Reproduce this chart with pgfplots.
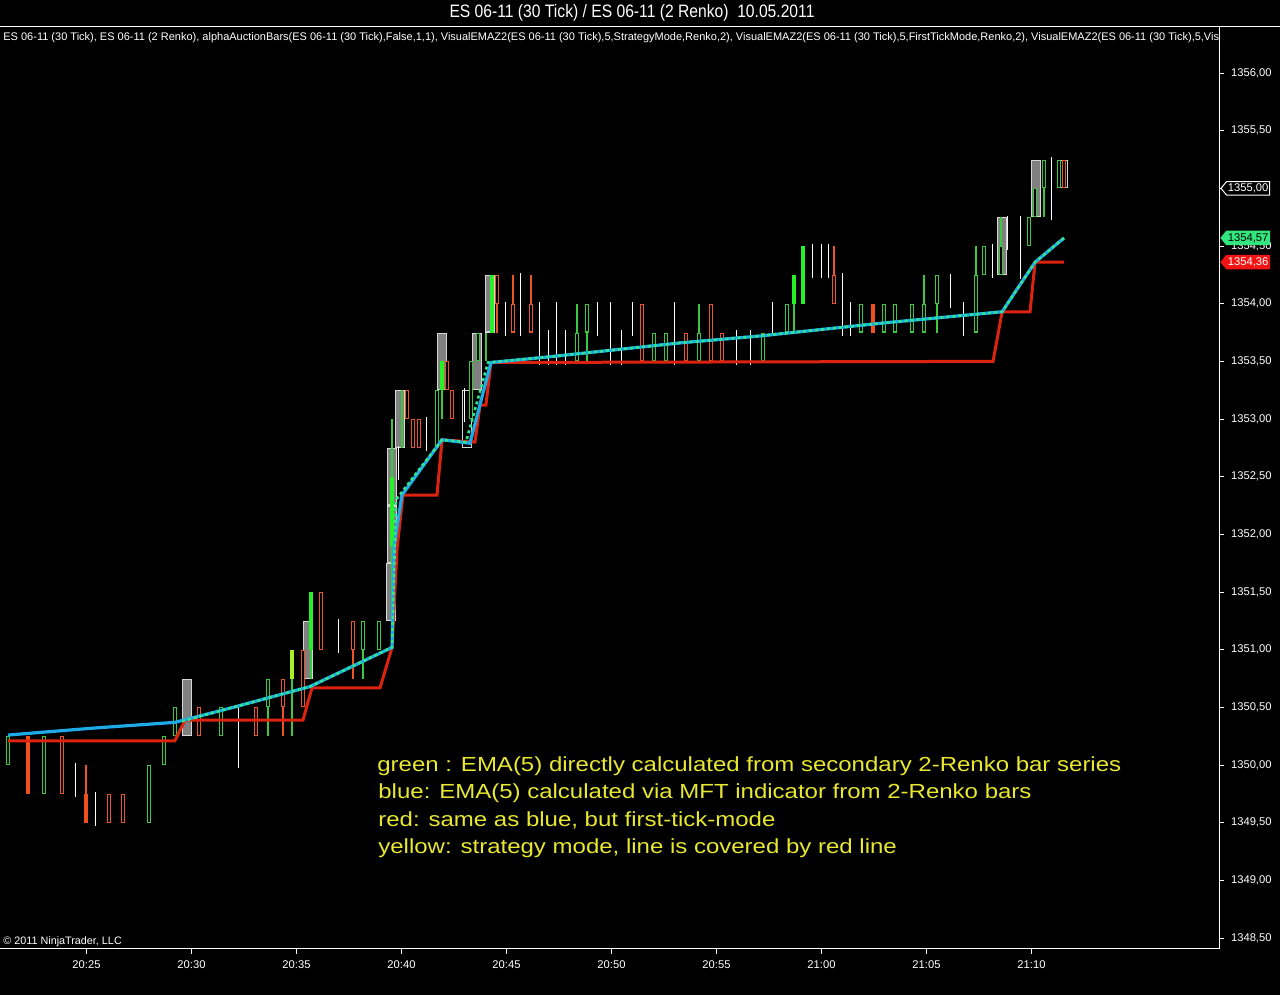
\documentclass[border=0pt]{standalone}
\usepackage{graphicx}
\usepackage{pgfplots}
\usepackage{pgfplotstable}
\pgfplotsset{compat=1.18}
\usepackage{fontspec}
\setmainfont{Liberation Sans}

\definecolor{grnH}{RGB}{60,200,60}
\definecolor{grnS}{RGB}{40,240,40}
\definecolor{grnY}{RGB}{170,240,40}
\definecolor{redH}{RGB}{235,85,35}
\definecolor{redS}{RGB}{240,80,30}
\definecolor{redL}{RGB}{220,35,15}
\definecolor{bluL}{RGB}{30,170,230}
\definecolor{grnL}{RGB}{50,230,140}
\definecolor{rkF}{RGB}{128,128,128}
\definecolor{rkO}{RGB}{215,215,215}
\definecolor{ylw}{RGB}{232,232,48}
\definecolor{mkG}{RGB}{50,230,125}
\definecolor{mkR}{RGB}{240,20,20}

\newcommand{\tk}{\fontsize{5.6}{6.5}\selectfont}

% hollow green candle bodies: time (min after 20:00), low, high
\pgfplotstableread{
x lo hi
21.26 1350.00 1350.25
22.98 1349.75 1350.25
27.98 1349.50 1350.00
28.69 1350.00 1350.25
29.21 1350.25 1350.50
31.40 1350.25 1350.50
33.64 1350.50 1350.75
38.17 1351.00 1351.25
38.93 1351.00 1351.25
41.69 1352.75 1353.25
43.31 1353.00 1353.50
43.64 1353.50 1353.75
48.36 1353.50 1353.75
48.83 1353.75 1354.00
52.02 1353.50 1353.75
52.60 1353.50 1353.75
54.17 1353.50 1353.75
57.21 1353.50 1353.75
58.36 1353.75 1354.00
61.88 1353.75 1354.00
62.98 1353.75 1354.00
63.50 1353.75 1354.00
64.31 1353.75 1354.00
64.88 1353.75 1354.00
65.50 1354.00 1354.25
67.36 1353.75 1354.25
67.74 1354.25 1354.50
68.55 1354.25 1354.50
69.88 1354.50 1354.75
70.17 1354.75 1355.00
70.60 1355.00 1355.25
71.31 1355.00 1355.25
}\hollowG

\pgfplotstableread{
x lo hi
23.83 1349.75 1350.25
26.07 1349.50 1349.75
26.74 1349.50 1349.75
30.36 1350.25 1350.50
33.07 1350.25 1350.50
34.36 1350.50 1350.75
35.31 1350.50 1351.00
36.17 1351.00 1351.50
37.69 1351.00 1351.25
40.26 1353.00 1353.25
40.55 1352.75 1353.00
40.83 1352.75 1353.00
42.17 1353.25 1353.50
42.40 1353.00 1353.25
44.55 1354.00 1354.25
45.31 1353.75 1354.00
46.17 1353.75 1354.00
51.45 1353.50 1354.00
53.55 1353.50 1353.75
54.74 1353.50 1354.00
55.26 1353.50 1353.75
60.60 1354.00 1354.25
71.55 1355.00 1355.25
}\hollowR

\pgfplotstableread{
x lo hi
35.69 1351.00 1351.50
39.55 1351.90 1352.50
41.93 1353.25 1353.50
44.31 1353.75 1354.25
58.69 1354.00 1354.25
59.12 1354.00 1354.50
}\solidG

\pgfplotstableread{
x lo hi
34.79 1350.75 1351.00
}\solidY

\pgfplotstableread{
x lo hi
22.21 1349.75 1350.25
24.98 1349.50 1349.75
62.45 1353.75 1354.00
}\solidR

\pgfplotstableread{
x lo hi
33.64 1350.25 1350.50
34.79 1350.25 1350.75
35.69 1350.75 1351.00
38.17 1350.75 1351.00
39.55 1351.25 1353.00
40.02 1352.75 1353.25
41.93 1353.00 1353.25
44.02 1353.50 1353.75
48.36 1353.75 1354.00
48.83 1353.50 1353.75
54.17 1353.75 1354.00
58.69 1353.75 1354.00
64.88 1354.00 1354.25
65.50 1353.75 1354.00
67.36 1354.25 1354.50
68.55 1354.50 1354.75
70.60 1354.75 1355.00
}\wickG

\pgfplotstableread{
x lo hi
24.98 1349.75 1350.00
34.36 1350.25 1350.50
37.69 1350.75 1351.00
44.55 1353.75 1354.00
45.31 1354.00 1354.25
46.17 1354.00 1354.25
60.60 1354.25 1354.50
}\wickR

\pgfplotstableread{
x lo hi
24.50 1349.75 1350.00
25.45 1349.50 1349.75
32.26 1350.00 1350.50
37.02 1351.00 1351.25
39.88 1352.50 1352.75
41.21 1352.75 1353.00
43.02 1353.00 1353.25
44.93 1353.75 1354.00
45.69 1353.75 1354.25
46.55 1353.50 1354.00
46.98 1353.50 1353.75
47.36 1353.50 1354.00
47.83 1353.50 1353.75
49.31 1353.75 1354.00
49.93 1353.50 1354.00
50.50 1353.50 1353.75
50.98 1353.75 1354.00
52.98 1353.50 1354.00
55.93 1353.50 1353.75
56.60 1353.50 1353.75
57.69 1353.75 1354.00
59.55 1354.25 1354.50
59.98 1354.25 1354.50
60.31 1354.25 1354.50
61.02 1353.75 1354.25
61.40 1353.75 1354.00
66.12 1354.00 1354.25
66.74 1353.75 1354.00
68.12 1354.25 1354.50
68.88 1354.50 1354.75
69.50 1354.25 1354.75
70.93 1354.75 1355.25
}\whiteW

\pgfplotstableread{
x lo hi
29.79 1350.25 1350.75
35.55 1350.75 1351.25
39.49 1351.25 1351.75
39.53 1351.75 1352.25
39.53 1352.25 1352.75
39.94 1352.75 1353.25
41.93 1353.25 1353.75
43.60 1353.25 1353.75
44.21 1353.75 1354.25
68.60 1354.25 1354.75
70.21 1354.75 1355.25
}\renko

\pgfplotstableread{
x lo hi
43.12 1352.75 1353.25
71.50 1355.00 1355.25
}\renkoO

\pgfplotstableread{
x y
21.26 1350.26
25.31 1350.32
29.21 1350.37
31.98 1350.50
35.64 1350.68
39.55 1351.02
39.64 1351.89
40.02 1352.34
41.93 1352.82
43.26 1352.79
44.26 1353.49
47.07 1353.54
53.26 1353.66
57.07 1353.72
62.79 1353.83
68.60 1353.93
70.17 1354.36
71.55 1354.57
}\blueEMA

\pgfplotstableread{
x y
29.55 1350.38
31.98 1350.50
35.64 1350.68
39.55 1351.02
39.74 1352.30
41.93 1352.82
43.07 1352.80
44.12 1353.49
47.07 1353.54
53.26 1353.66
57.07 1353.72
62.79 1353.83
68.60 1353.93
70.17 1354.36
71.55 1354.57
}\greenEMA

\pgfplotstableread{
x y
21.26 1350.21
29.21 1350.21
29.69 1350.39
35.31 1350.39
35.74 1350.67
38.98 1350.67
39.55 1351.02
39.79 1351.88
40.07 1352.34
41.69 1352.34
41.93 1352.82
43.50 1352.80
43.74 1353.12
44.02 1353.12
44.26 1353.49
68.17 1353.50
68.60 1353.93
69.93 1353.93
70.17 1354.36
71.55 1354.36
}\redEMA

\pgfplotsset{
  bbar/.style 2 args={forget plot, mark=none, draw=none,
    error bars/y dir=plus, error bars/y explicit, error bars/error mark=none,
    error bars/error bar style={draw=#1, line width=#2, line cap=butt, solid}},
  cbar/.style={forget plot, mark=none, draw=none,
    error bars/y dir=both, error bars/y explicit, error bars/error mark=-,
    error bars/error bar style={draw=white, line width=0.5pt, solid},
    error bars/error mark options={draw=white, line width=0.5pt, mark size=1.3pt}},
}

\begin{document}
\begin{tikzpicture}
\fill[black] (0,-23pt) rectangle (640pt,474.5pt);
\begin{axis}[
  at={(0,0)}, anchor=south west,
  scale only axis, width=609.5pt, height=461pt,
  xmin=20.881, xmax=78.929, ymin=1348.405, ymax=1356.399,
  axis x line=bottom, axis y line=right,
  axis line style={-, white, line width=0.5pt},
  tick align=outside, major tick length=2.5pt,
  tick style={white, line width=0.5pt},
  tick label style={text=white, font=\tk},
  xtick={25,30,35,40,45,50,55,60,65,70},
  xticklabels={20:25,20:30,20:35,20:40,20:45,20:50,20:55,21:00,21:05,21:10},
  ytick={1348.5,1349,1349.5,1350,1350.5,1351,1351.5,1352,1352.5,1353,1353.5,1354,1354.5,1355,1355.5,1356},
  yticklabels={{1348,50},{1349,00},{1349,50},{1350,00},{1350,50},{1351,00},{1351,50},{1352,00},{1352,50},{1353,00},{1353,50},{1354,00},{1354,50},{},{1355,50},{1356,00}},
  minor tick num=0,
]
% renko boxes
\addplot[bbar={rkO}{5pt}] table[x=x,y=lo,y error expr=\thisrow{hi}-\thisrow{lo}] {\renko};
\addplot[bbar={rkF}{4pt}] table[x=x,y expr=\thisrow{lo}+0.009,y error expr=\thisrow{hi}-\thisrow{lo}-0.018] {\renko};
\addplot[bbar={rkO}{5pt}] table[x=x,y=lo,y error expr=\thisrow{hi}-\thisrow{lo}] {\renkoO};
\addplot[bbar={black}{4pt}] table[x=x,y expr=\thisrow{lo}+0.009,y error expr=\thisrow{hi}-\thisrow{lo}-0.018] {\renkoO};
% wicks
\addplot[bbar={grnH}{0.6pt}] table[x=x,y=lo,y error expr=\thisrow{hi}-\thisrow{lo}] {\wickG};
\addplot[bbar={redH}{0.6pt}] table[x=x,y=lo,y error expr=\thisrow{hi}-\thisrow{lo}] {\wickR};
% hollow bodies
\addplot[bbar={grnH}{2pt}] table[x=x,y=lo,y error expr=\thisrow{hi}-\thisrow{lo}] {\hollowG};
\addplot[bbar={black}{1pt}] table[x=x,y expr=\thisrow{lo}+0.009,y error expr=\thisrow{hi}-\thisrow{lo}-0.018] {\hollowG};
\addplot[bbar={redH}{2pt}] table[x=x,y=lo,y error expr=\thisrow{hi}-\thisrow{lo}] {\hollowR};
\addplot[bbar={black}{1pt}] table[x=x,y expr=\thisrow{lo}+0.009,y error expr=\thisrow{hi}-\thisrow{lo}-0.018] {\hollowR};
% solid bodies
\addplot[bbar={grnS}{1.6pt}] table[x=x,y=lo,y error expr=\thisrow{hi}-\thisrow{lo}] {\solidG};
\addplot[bbar={grnY}{1.6pt}] table[x=x,y=lo,y error expr=\thisrow{hi}-\thisrow{lo}] {\solidY};
\addplot[bbar={redS}{1.6pt}] table[x=x,y=lo,y error expr=\thisrow{hi}-\thisrow{lo}] {\solidR};
% white doji bars
\addplot[cbar] table[x=x,y expr=(\thisrow{lo}+\thisrow{hi})/2,y error expr=(\thisrow{hi}-\thisrow{lo})/2] {\whiteW};
% EMA lines
\addplot[redL, line width=1.5pt, mark=none] table[x=x,y=y] {\redEMA};
\addplot[bluL, line width=1.6pt, mark=none] table[x=x,y=y] {\blueEMA};
\addplot[grnL, line width=1.3pt, mark=none, dash pattern=on 1.5pt off 1.5pt] table[x=x,y=y] {\greenEMA};
\coordinate (m1) at (axis cs:78.929,1355.00);
\coordinate (m2) at (axis cs:78.929,1354.57);
\coordinate (m3) at (axis cs:78.929,1354.36);
\end{axis}
% top separator and title
\draw[white, line width=0.5pt] (0,461pt) -- (640pt,461pt);
\node[white, anchor=center, inner sep=0pt] at (316pt,468pt)
  {\scalebox{0.87}[1]{\fontsize{9}{10}\selectfont ES 06-11 (30 Tick) / ES 06-11 (2 Renko)\ \ 10.05.2011}};
\begin{scope}
\clip (0,445pt) rectangle (609pt,460.5pt);
\node[white, anchor=west, inner sep=0pt] at (1.5pt,455.5pt)
  {\fontsize{5.5}{6}\selectfont ES 06-11 (30 Tick), ES 06-11 (2 Renko), alphaAuctionBars(ES 06-11 (30 Tick),False,1,1), VisualEMAZ2(ES 06-11 (30 Tick),5,StrategyMode,Renko,2), VisualEMAZ2(ES 06-11 (30 Tick),5,FirstTickMode,Renko,2), VisualEMAZ2(ES 06-11 (30 Tick),5,Visual};
\end{scope}
\node[white, anchor=west, inner sep=0pt] at (1.5pt,3.5pt) {\fontsize{5.4}{6}\selectfont \textcopyright\ 2011 NinjaTrader, LLC};
% annotation
\node[ylw, anchor=base west, inner sep=0pt] at (188.5pt,88.5pt) {\scalebox{1}[0.85]{\fontsize{12}{14}\selectfont green : EMA(5) directly calculated from secondary 2-Renko bar series}};
\node[ylw, anchor=base west, inner sep=0pt] at (189pt,75pt) {\scalebox{1}[0.85]{\fontsize{12}{14}\selectfont blue: EMA(5) calculated via MFT indicator from 2-Renko bars}};
\node[ylw, anchor=base west, inner sep=0pt] at (189pt,61pt) {\scalebox{1}[0.85]{\fontsize{12}{14}\selectfont red: same as blue, but first-tick-mode}};
\node[ylw, anchor=base west, inner sep=0pt] at (189pt,47.5pt) {\scalebox{1}[0.85]{\fontsize{12}{14}\selectfont yellow: strategy mode, line is covered by red line}};
% price markers
\draw[white, fill=black, line width=0.5pt] ([xshift=1pt]m1) -- ++(2.8pt,3.4pt) -- ++(21.5pt,0) -- ++(0,-6.8pt) -- ++(-21.5pt,0) -- cycle;
\node[white, inner sep=0pt] at ([xshift=14.6pt]m1) {\tk 1355,00};
\draw[mkG, fill=mkG, line width=0.5pt] ([xshift=1pt]m2) -- ++(2.8pt,3.4pt) -- ++(21.5pt,0) -- ++(0,-6.8pt) -- ++(-21.5pt,0) -- cycle;
\node[black, inner sep=0pt] at ([xshift=14.6pt]m2) {\tk 1354,57};
\draw[mkR, fill=mkR, line width=0.5pt] ([xshift=1pt]m3) -- ++(2.8pt,3.4pt) -- ++(21.5pt,0) -- ++(0,-6.8pt) -- ++(-21.5pt,0) -- cycle;
\node[white, inner sep=0pt] at ([xshift=14.6pt]m3) {\tk 1354,36};
\pgfresetboundingbox
\useasboundingbox (0,-23pt) rectangle (640pt,474.5pt);
\end{tikzpicture}
\end{document}
